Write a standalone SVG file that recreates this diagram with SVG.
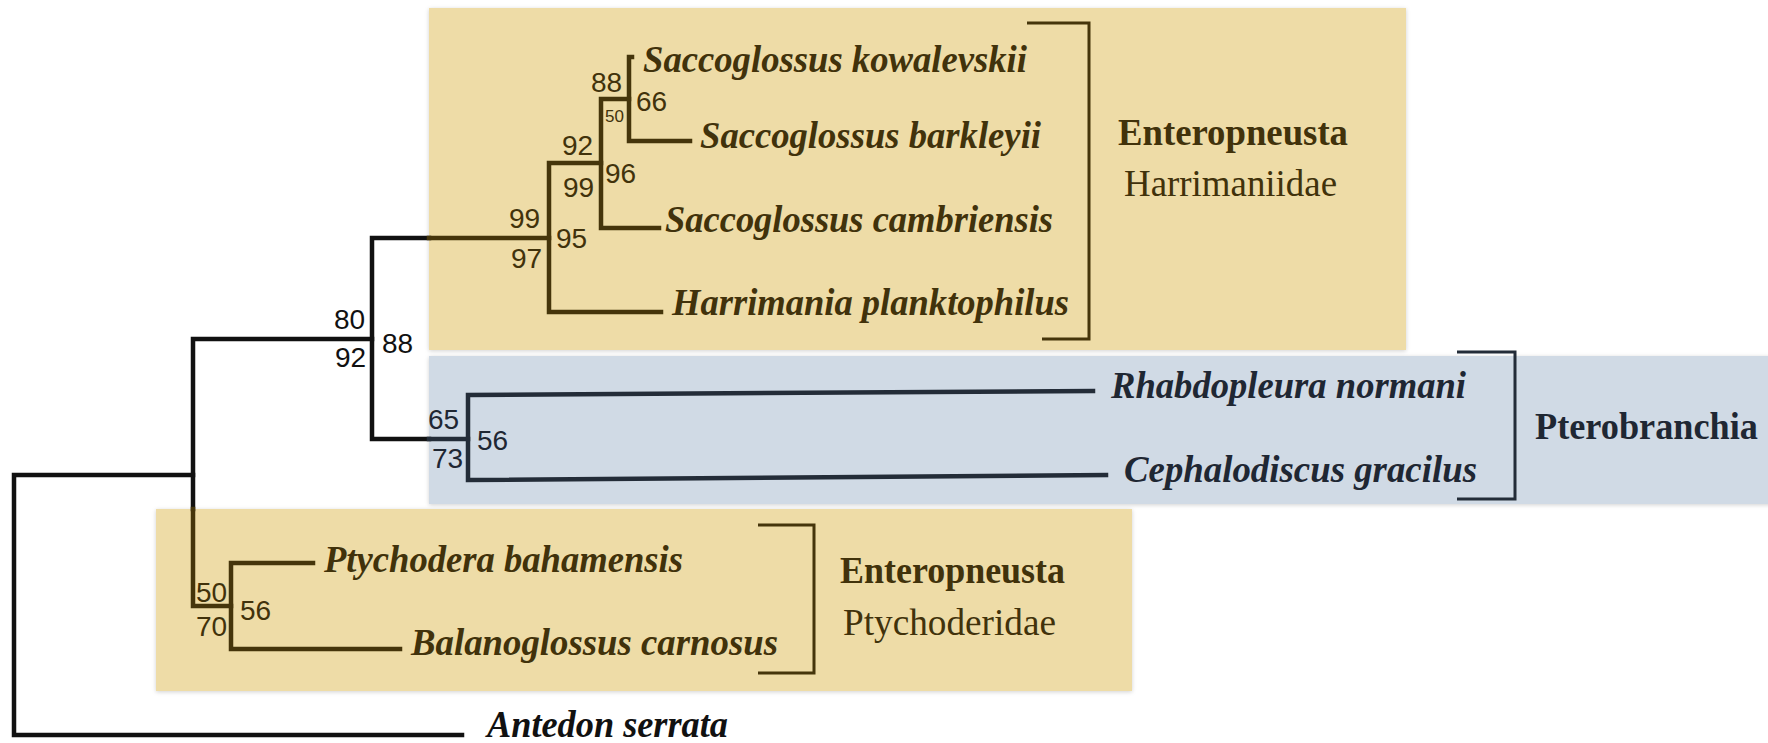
<svg xmlns="http://www.w3.org/2000/svg" width="1768" height="743" viewBox="0 0 1768 743">
<defs>
<filter id="soft" x="-5%" y="-5%" width="110%" height="110%">
<feDropShadow dx="0" dy="1" stdDeviation="2" flood-color="#000" flood-opacity="0.18"/>
</filter>
<style>
.box-tan{fill:#EEDCA7;filter:url(#soft)}
.box-blue{fill:#D0DAE5;filter:url(#soft)}
.br{fill:none;stroke-width:4.5;stroke-linejoin:miter;stroke-linecap:square}
.k{stroke:#111}
.t{stroke:#45350B}
.s{stroke:#232C38}
.brk{fill:none;stroke-width:3}
.sp{font-family:"Liberation Serif","Times New Roman",serif;font-weight:bold;font-style:italic;font-size:38px}
.grp{font-family:"Liberation Serif","Times New Roman",serif;font-size:37px}
.b{font-weight:bold}
.num{font-family:"Liberation Sans",Arial,sans-serif;font-size:28px}
.sm{font-size:17px}
.ct{fill:#41320B}
.cs{fill:#1F2733}
.ck{fill:#111}
</style>
</defs>
<rect width="1768" height="743" fill="#fff"/>
<g id="backgrounds">
<rect class="box-tan" x="429" y="8" width="977" height="342"/>
<rect class="box-blue" x="429" y="356" width="1345" height="148"/>
<rect class="box-tan" x="156" y="509" width="976" height="182"/>
</g>
<g id="connectors">
<path class="br k" d="M462,735 H14 V475 H193"/>
<path class="br k" d="M193,509 V339 H372"/>
<path class="br k" d="M429,238 H372 V439 H429"/>
<path class="br t" d="M193,509 V606 H231"/>
<path class="br t" d="M313,563 H231 V649 H400"/>
<path class="br t" d="M429,238 H549"/>
<path class="br t" d="M661,312 H549 V163 H601"/>
<path class="br t" d="M659,228 H601 V99 H629"/>
<path class="br t" d="M690,141 H629 V57 H632"/>
<path class="br s" d="M429,439 H468"/>
<path class="br s" d="M1093,391 L468,395 V480 L1106,475"/>
<path class="brk t" d="M1027,23 H1089 V339 H1042"/>
<path class="brk s" d="M1457,352 H1515 V499 H1457"/>
<path class="brk t" d="M758,525 H814 V673 H758"/>
</g>
<g id="support">
<text class="num ck" x="334" y="329">80</text>
<text class="num ck" x="335" y="367">92</text>
<text class="num ck" x="382" y="353">88</text>
<text class="num ct" x="509" y="228">99</text>
<text class="num ct" x="511" y="268">97</text>
<text class="num ct" x="556" y="248">95</text>
<text class="num ct" x="562" y="155">92</text>
<text class="num ct" x="563" y="197">99</text>
<text class="num ct" x="605" y="183">96</text>
<text class="num ct" x="591" y="92">88</text>
<text class="num ct" x="636" y="111">66</text>
<text class="num sm ct" x="605" y="122">50</text>
<text class="num cs" x="428" y="429">65</text>
<text class="num cs" x="432" y="468">73</text>
<text class="num cs" x="477" y="450">56</text>
<text class="num ct" x="196" y="602">50</text>
<text class="num ct" x="196" y="636">70</text>
<text class="num ct" x="240" y="620">56</text>
</g>
<g id="taxon-s-kowalevskii"><text class="sp ct" x="643" y="72" textLength="384" lengthAdjust="spacingAndGlyphs">Saccoglossus kowalevskii</text></g>
<g id="taxon-s-barkleyii"><text class="sp ct" x="700" y="148" textLength="341" lengthAdjust="spacingAndGlyphs">Saccoglossus barkleyii</text></g>
<g id="taxon-s-cambriensis"><text class="sp ct" x="665" y="232" textLength="388" lengthAdjust="spacingAndGlyphs">Saccoglossus cambriensis</text></g>
<g id="taxon-h-planktophilus"><text class="sp ct" x="672" y="315" textLength="397" lengthAdjust="spacingAndGlyphs">Harrimania planktophilus</text></g>
<g id="taxon-r-normani"><text class="sp cs" x="1111" y="398" textLength="355" lengthAdjust="spacingAndGlyphs">Rhabdopleura normani</text></g>
<g id="taxon-c-gracilus"><text class="sp cs" x="1124" y="482" textLength="353" lengthAdjust="spacingAndGlyphs">Cephalodiscus gracilus</text></g>
<g id="taxon-p-bahamensis"><text class="sp ct" x="324" y="572" textLength="359" lengthAdjust="spacingAndGlyphs">Ptychodera bahamensis</text></g>
<g id="taxon-b-carnosus"><text class="sp ct" x="411" y="655" textLength="367" lengthAdjust="spacingAndGlyphs">Balanoglossus carnosus</text></g>
<g id="taxon-a-serrata"><text class="sp ck" x="487" y="737" textLength="241" lengthAdjust="spacingAndGlyphs">Antedon serrata</text></g>
<g id="group-harrimaniidae">
<text class="grp b ct" x="1118" y="145" textLength="230" lengthAdjust="spacingAndGlyphs">Enteropneusta</text>
<text class="grp ct" x="1124" y="196" textLength="213" lengthAdjust="spacingAndGlyphs">Harrimaniidae</text>
</g>
<g id="group-pterobranchia">
<text class="grp b cs" x="1535" y="439" textLength="223" lengthAdjust="spacingAndGlyphs">Pterobranchia</text>
</g>
<g id="group-ptychoderidae">
<text class="grp b ct" x="840" y="583" textLength="225" lengthAdjust="spacingAndGlyphs">Enteropneusta</text>
<text class="grp ct" x="843" y="635" textLength="213" lengthAdjust="spacingAndGlyphs">Ptychoderidae</text>
</g>
</svg>
